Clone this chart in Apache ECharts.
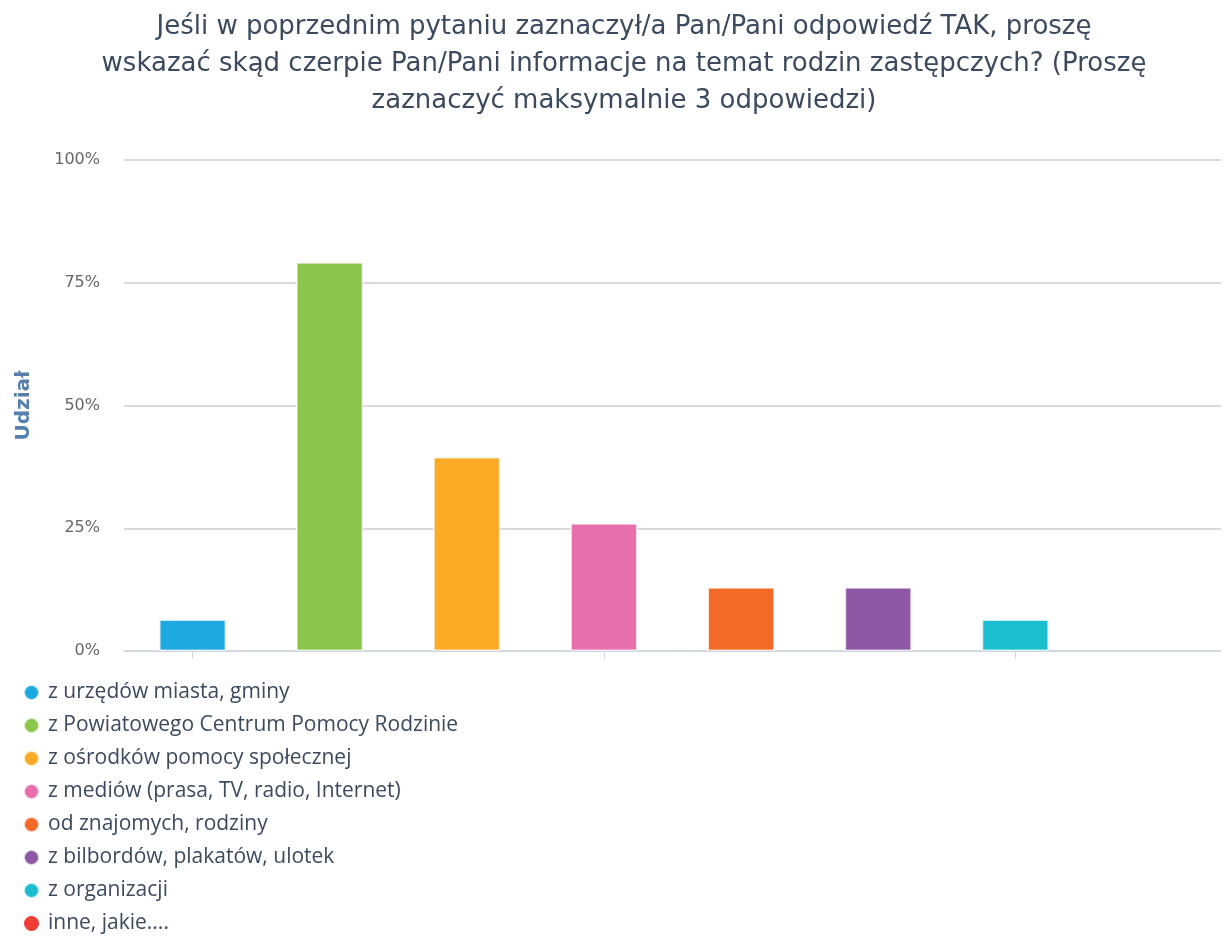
<!DOCTYPE html>
<html>
<head>
<meta charset="utf-8">
<script src="https://cdn.jsdelivr.net/npm/echarts@6/dist/echarts.min.js"></script>
<style>html,body{margin:0;padding:0;background:#fff}#c{width:1224px;height:936px}</style>
</head>
<body>
<div id="c"></div>
<script>
const titleText = "Jeśli w poprzednim pytaniu zaznaczył/a Pan/Pani odpowiedź TAK, proszę\nwskazać skąd czerpie Pan/Pani informacje na temat rodzin zastępczych? (Proszę\nzaznaczyć maksymalnie 3 odpowiedzi)";
const categories = [
  "z urzędów miasta, gminy",
  "z Powiatowego Centrum Pomocy Rodzinie",
  "z ośrodków pomocy społecznej",
  "z mediów (prasa, TV, radio, Internet)",
  "od znajomych, rodziny",
  "z bilbordów, plakatów, ulotek",
  "z organizacji",
  "inne, jakie...."
];
const values = [6.4, 79.2, 39.5, 26.0, 13.0, 13.0, 6.4, 0];
const colors = ["#1ea8e0", "#8bc64a", "#fbaa25", "#e76fab", "#f26a25", "#8e57a3", "#1bbecf", "#ee3e35"];
const yTicks = [0, 25, 50, 75, 100];

const series = categories.map((name, i) => ({
  name: name,
  type: 'bar',
  stack: 'all',
  barWidth: 67,
  itemStyle: { color: colors[i], borderColor: 'rgba(255,255,255,0.7)', borderWidth: values[i] === 0 ? 0 : 1.5 },
  data: categories.map((_, j) => j === i ? values[i] : '-')
}));

const chart = echarts.init(document.getElementById('c'), null, { renderer: 'canvas' });
chart.setOption({
  animation: false,
  color: colors,
  title: {
    text: titleText,
    left: 619,
    top: 4,
    textAlign: 'center',
    textStyle: { fontFamily: "'DejaVu Sans'", fontSize: 26, fontWeight: 'normal', color: '#3b4a5e', lineHeight: 37 }
  },
  legend: {
    orient: 'vertical',
    left: 18,
    top: 677,
    height: 260,
    icon: 'circle',
    itemWidth: 15,
    itemHeight: 15,
    itemGap: 12,
    data: categories,
    textStyle: { fontFamily: "'Open Sans'", fontSize: 21, color: '#3b4a5e', padding: [0, 0, 0, 4] }
  },
  grid: { left: 124, right: 3, top: 160, bottom: 285, containLabel: false },
  xAxis: {
    type: 'category',
    data: categories,
    boundaryGap: true,
    axisLine: { show: true, lineStyle: { color: '#ccd6eb', width: 1 } },
    axisTick: { show: true, alignWithLabel: true, length: 8, lineStyle: { color: '#ccd6eb' } },
    axisLabel: { show: false },
    splitLine: { show: false }
  },
  yAxis: {
    type: 'value',
    min: yTicks[0],
    max: yTicks[yTicks.length - 1],
    interval: 25,
    name: 'Udział',
    nameLocation: 'middle',
    nameRotate: 90,
    nameGap: 90,
    nameTextStyle: { fontFamily: "'DejaVu Sans'", fontSize: 20, fontWeight: 'bold', color: '#5580ad' },
    axisLine: { show: false },
    axisTick: { show: false },
    axisLabel: { formatter: '{value}%', margin: 24, fontFamily: "'DejaVu Sans'", fontSize: 16, color: '#666666' },
    splitLine: { lineStyle: { color: '#cccccc', width: 1.5 } }
  },
  series: series
});
</script>
</body>
</html>
